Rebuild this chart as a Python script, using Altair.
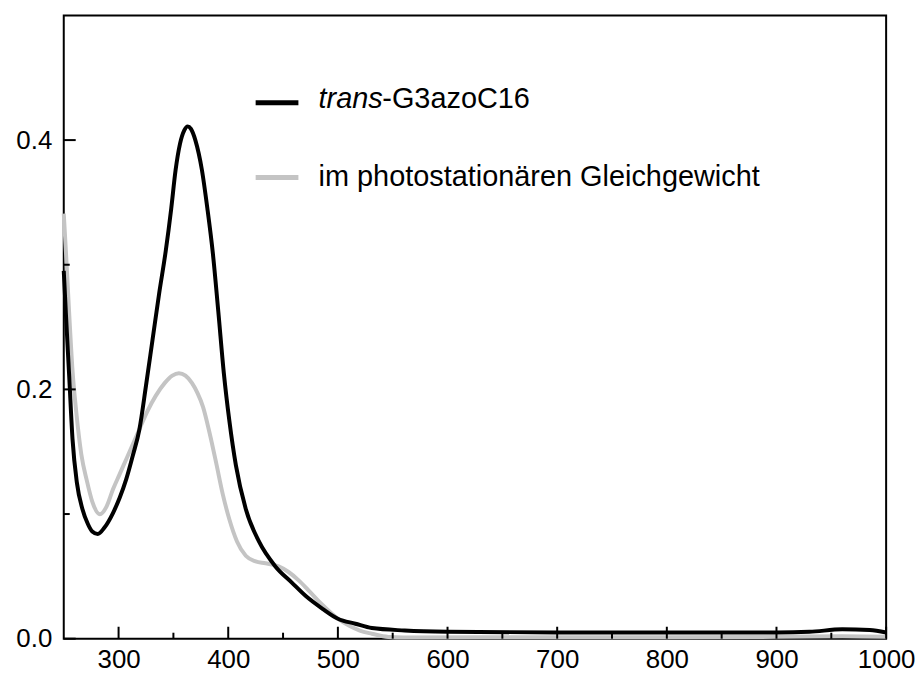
import altair as alt
import pandas as pd

# ---- data ----
trans_wl = [250, 252, 255, 258, 262, 267, 272, 276, 281, 287, 295, 301, 307, 313, 319, 325, 331, 337,
            343, 348, 352, 356, 360, 363, 366, 370, 376, 381, 386, 391, 396, 401, 407, 416, 428, 443,
            458, 471, 486, 500, 516, 531, 561, 600, 700, 800, 900, 930, 960, 985, 1000]
trans_abs = [0.295, 0.26, 0.21, 0.16, 0.125, 0.104, 0.092, 0.086, 0.084, 0.089, 0.101, 0.113, 0.128,
             0.147, 0.168, 0.203, 0.24, 0.277, 0.311, 0.345, 0.376, 0.397, 0.408, 0.411, 0.409, 0.400,
             0.376, 0.345, 0.309, 0.262, 0.213, 0.175, 0.139, 0.104, 0.078, 0.058, 0.045, 0.034, 0.024,
             0.016, 0.012, 0.0085, 0.0066, 0.0056, 0.005, 0.005, 0.005, 0.0055, 0.0075, 0.007, 0.005]

pss_wl = [250, 252, 255, 258, 261.5, 266, 271, 276, 283, 289, 295, 301, 307, 313, 319, 326, 334, 342,
          349, 355, 361, 367, 372, 377, 383, 389, 395, 401, 408, 416, 425, 434, 446, 455, 464, 473, 486,
          500, 510, 520, 531, 546, 560, 700, 800, 900, 960, 1000]
pss_abs = [0.341, 0.31, 0.26, 0.215, 0.181, 0.148, 0.127, 0.110, 0.0998, 0.106, 0.12, 0.132, 0.144,
           0.156, 0.168, 0.182, 0.195, 0.205, 0.211, 0.213, 0.211, 0.205, 0.197, 0.186, 0.165, 0.141,
           0.116, 0.0958, 0.078, 0.0665, 0.062, 0.0605, 0.058, 0.0535, 0.047, 0.039, 0.027, 0.016,
           0.0105, 0.0065, 0.004, 0.0014, 0.001, 0.0012, 0.0012, 0.0015, 0.002, 0.0015]

x_labels = [300, 400, 500, 600, 700, 800, 900, 1000]
x_minor = [350, 450, 550, 650, 750, 850, 950]
y_labels = [0.0, 0.2, 0.4]
y_minor = [0.1, 0.3]

legend_names = ["trans", "pss"]
legend_y_line = [0.430, 0.370]
legend_y_text = [0.4255, 0.3635]
legend_x0 = 425
legend_x1 = 464
legend_text_x = 482.4

W, H = 826, 626
FONT = "Liberation Sans"
GRAY = "#c4c4c4"

xs = alt.Scale(domain=[250, 1000], nice=False, zero=False)
ys = alt.Scale(domain=[0, 0.5], nice=False)
xaxis = alt.Axis(values=x_labels, format="d", labelFontSize=26, labelFont=FONT, title=None,
                 labelColor="black", labelPadding=8, labelFlush=False, labelOverlap=False,
                 ticks=False, domain=False, grid=False)
yaxis = alt.Axis(values=y_labels, format=".1f", labelFontSize=26, labelFont=FONT, title=None,
                 labelColor="black", labelPadding=12, labelFlush=False, labelOverlap=False,
                 ticks=False, domain=False, grid=False)

def X(f):
    return alt.X(f, type="quantitative", scale=xs, axis=xaxis, title=None)

def Y(f):
    return alt.Y(f, type="quantitative", scale=ys, axis=yaxis, title=None)

df_t = pd.DataFrame({"wl": trans_wl, "a": trans_abs})
df_p = pd.DataFrame({"wl": pss_wl, "a": pss_abs})

line_p = alt.Chart(df_p).mark_line(color=GRAY, strokeWidth=4, interpolate="monotone").encode(
    x=X("wl"), y=Y("a"))
line_t = alt.Chart(df_t).mark_line(color="black", strokeWidth=4, interpolate="monotone").encode(
    x=X("wl"), y=Y("a"))

def xticks(vals, length):
    return alt.Chart(pd.DataFrame({"wl": vals})).mark_rule(color="black", strokeWidth=2).encode(
        x=X("wl"), y=alt.value(H), y2=alt.value(H - length))

def yticks(vals, length):
    return alt.Chart(pd.DataFrame({"a": vals})).mark_rule(color="black", strokeWidth=2).encode(
        y=Y("a"), x=alt.value(0), x2=alt.value(length))

leg = pd.DataFrame({"name": legend_names, "yl": legend_y_line, "yt": legend_y_text,
                    "x0": [legend_x0] * 2, "x1": [legend_x1] * 2, "xt": [legend_text_x] * 2})

leg_lines = alt.Chart(leg).mark_rule(strokeWidth=5).encode(
    x=X("x0"), x2="x1:Q", y=Y("yl"),
    color=alt.Color("name:N", scale=alt.Scale(domain=legend_names, range=["black", GRAY]), legend=None))

txt = dict(align="left", baseline="alphabetic", fontSize=29, font=FONT, color="black")
leg_t1 = alt.Chart(leg.iloc[[0]]).mark_text(fontStyle="italic", **txt).encode(
    x=X("xt"), y=Y("yt"), text=alt.value("trans"))
leg_t2 = alt.Chart(leg.iloc[[0]]).mark_text(dx=64, **txt).encode(
    x=X("xt"), y=Y("yt"), text=alt.value("-G3azoC16"))
leg_t3 = alt.Chart(leg.iloc[[1]]).mark_text(**txt).encode(
    x=X("xt"), y=Y("yt"), text=alt.value("im photostationären Gleichgewicht"))

chart = alt.layer(
    line_p, line_t,
    xticks(x_labels, 12), xticks(x_minor, 6),
    yticks(y_labels, 12), yticks(y_minor, 6),
    leg_lines, leg_t1, leg_t2, leg_t3,
).properties(
    width=W, height=H,
    autosize=alt.AutoSizeParams(type="none"),
    padding={"left": 56, "top": 6, "right": 30, "bottom": 35},
).configure_view(stroke="black", strokeWidth=2)

chart.save("out.html", embed_options={"renderer": "svg", "actions": False})
